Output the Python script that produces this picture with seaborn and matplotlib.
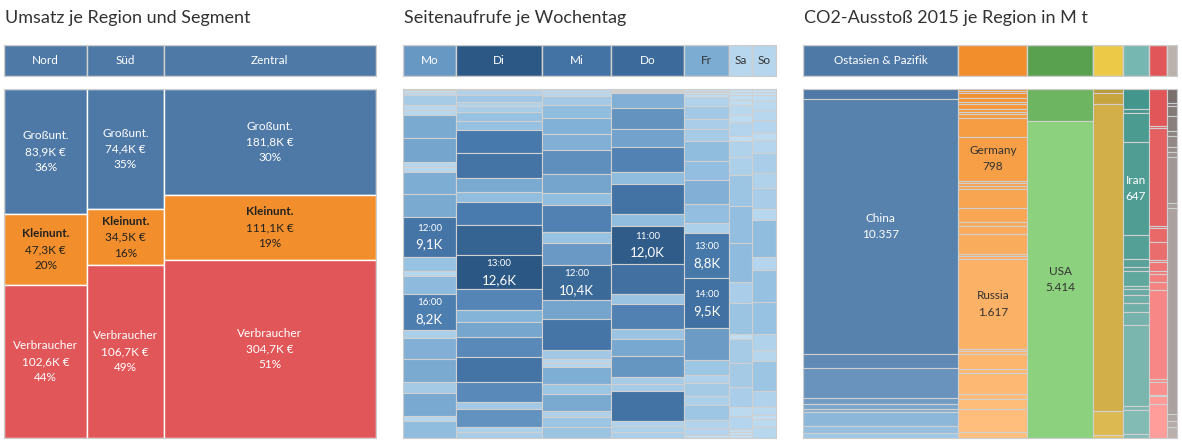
import numpy as np
import seaborn as sns
import matplotlib.pyplot as plt
from matplotlib.colors import Normalize

sns.set_style('white')
plt.rcParams['font.family'] = ['Lato', 'DejaVu Sans']

# --- Umsatz je Region und Segment (K €)
regions = ['Nord', 'Süd', 'Zentral']
segments = ['Großunt.', 'Kleinunt.', 'Verbraucher']
umsatz = {'Nord': [83.9, 47.3, 102.6],
          'Süd': [74.4, 34.5, 106.7],
          'Zentral': [181.8, 111.1, 304.7]}
seg_colors = ['#4e79a7', '#f28e2b', '#e15759']

# --- Seitenaufrufe je Wochentag (K, Stunde 0..23)
days = ['Mo', 'Di', 'Mi', 'Do', 'Fr', 'Sa', 'So']
aufrufe = {
    'Mo': [0.3, 0.3, 0.8, 2.3, 1.0, 1.1, 5.2, 5.6, 1.1, 1.0, 5.0, 5.2, 9.1, 3.2, 1.1, 4.0, 8.2, 1.9, 4.8, 5.2, 2.4, 5.3, 1.1, 3.8],
    'Di': [0.5, 1.6, 2.7, 1.6, 2.1, 3.2, 3.3, 8.6, 9.2, 5.2, 3.7, 8.4, 11.1, 12.6, 7.7, 4.5, 5.5, 7.4, 9.2, 7.4, 2.5, 6.8, 1.8, 2.1],
    'Mi': [1.0, 1.2, 2.5, 3.7, 4.7, 4.8, 7.0, 5.6, 3.7, 8.0, 3.2, 6.3, 10.4, 5.6, 9.1, 2.6, 1.2, 1.3, 4.9, 2.9, 5.2, 1.7, 3.0, 3.1],
    'Do': [0.3, 0.3, 0.3, 0.3, 4.8, 6.7, 5.7, 7.9, 3.8, 9.4, 3.7, 12.0, 9.6, 3.1, 8.0, 3.1, 5.4, 6.6, 2.3, 2.2, 9.4, 1.6, 1.8, 1.9],
    'Fr': [0.3, 0.3, 0.4, 0.6, 1.6, 2.5, 2.0, 2.3, 3.8, 3.6, 4.8, 3.6, 1.8, 8.8, 9.5, 6.2, 2.9, 1.6, 2.4, 1.8, 2.9, 1.5, 1.4, 0.5],
    'Sa': [0.3, 0.3, 0.5, 0.5, 1.0, 0.6, 1.4, 0.5, 1.6, 1.8, 3.0, 3.6, 3.9, 2.0, 3.1, 0.5, 2.3, 2.4, 2.0, 0.8, 1.3, 0.3, 0.3, 0.3],
    'So': [0.3, 0.3, 0.6, 0.9, 1.1, 1.3, 0.7, 1.3, 2.0, 1.6, 2.1, 1.1, 3.8, 1.3, 3.3, 3.2, 1.6, 1.2, 3.0, 1.6, 0.9, 0.4, 0.8, 1.1],
}
highlight = [('Mo', 12), ('Mo', 16), ('Di', 13), ('Mi', 12), ('Do', 11), ('Fr', 13), ('Fr', 14)]

# --- CO2-Ausstoß 2015 je Region (M t)
co2_regions = ['Ostasien & Pazifik', 'Europa & Zentralasien', 'Nordamerika', 'Südasien',
               'Naher Osten', 'Afrika', 'Lateinamerika']
co2_head = ['#4e79a7', '#f28e2b', '#59a14f', '#edc948', '#76b7b2', '#e15759', '#bab0ac']
co2_shades = [('#4e79a7', '#9fc8e6'), ('#f28e2b', '#ffc07f'), ('#6db560', '#8cd17d'),
              ('#bb9a35', '#e8c35a'), ('#43968c', '#86bcb6'), ('#e15759', '#ff9d9a'),
              ('#79706e', '#bab0ac')]
co2 = {
    'Ostasien & Pazifik': [410, 10357, 570, 1240, 230, 200, 140, 570, 290, 190],
    'Europa & Zentralasien': [36, 42, 78, 84, 36, 84, 60, 36, 60, 342, 798, 48, 42, 60, 348, 240, 72, 156,
                              360, 42, 48, 1617, 42, 60, 270, 60, 390, 90, 180, 420, 102],
    'Nordamerika': [550, 5414],
    'Südasien': [30, 90, 2400, 190, 20],
    'Naher Osten': [140, 28, 200, 647, 165, 60, 28, 103, 16, 46, 57, 57, 92, 563, 28, 168, 28],
    'Afrika': [173, 13, 462, 9, 63, 86, 11, 39, 16, 39, 35, 421, 16, 60, 6, 36, 160],
    'Lateinamerika': [36, 9, 26, 39, 13, 26, 13, 13, 119, 15, 533, 17, 17, 28],
}
co2_labels = {('Ostasien & Pazifik', 1): ('China', 'white'),
              ('Europa & Zentralasien', 10): ('Germany', '#333333'),
              ('Europa & Zentralasien', 21): ('Russia', '#333333'),
              ('Nordamerika', 1): ('USA', '#333333'),
              ('Naher Osten', 3): ('Iran', 'white')}

W, H = 1182, 442
fig = plt.figure(figsize=(W / 100, H / 100), dpi=100)


def rect(x0, y0, x1, y1):
    return fig.add_axes([x0 / W, 1 - y1 / H, (x1 - x0) / W, (y1 - y0) / H])


def setup(ax):
    ax.set_xlim(0, 1)
    ax.set_ylim(1, 0)
    ax.set_xticks([])
    ax.set_yticks([])
    for s in ax.spines.values():
        s.set_color('#cccccc')
        s.set_linewidth(0.8)


def de(v, d=1):
    return f'{v:,.{d}f}'.replace(',', 'X').replace('.', ',').replace('X', '.')


def header(ax, names, widths, colors, textcolors):
    setup(ax)
    ax.set_ylim(0, 1)
    left = np.concatenate([[0], np.cumsum(widths)[:-1]])
    ax.bar(left, 1, width=widths, align='edge', color=colors, edgecolor='#d0d0d0', linewidth=1)
    for n, l, w, tc in zip(names, left, widths, textcolors):
        if n:
            ax.text(l + w / 2, 0.5, n, ha='center', va='center', color=tc, fontsize=8.5)


panels = [(4, 376), (403, 776), (803, 1177)]
titles = ['Umsatz je Region und Segment', 'Seitenaufrufe je Wochentag', 'CO2-Ausstoß 2015 je Region in M t']
for (x0, x1), t in zip(panels, titles):
    fig.text((x0 + 1) / W, 1 - 18 / H, t, fontsize=13, color='#333333', va='center')

# Panel 1
tot = np.array([sum(umsatz[r]) for r in regions])
wid = tot / tot.sum()
header(rect(4, 45, 376, 76), regions, wid, ['#4e79a7'] * 3, ['white'] * 3)
ax = rect(4, 89, 376, 438)
setup(ax)
left = 0
for r, w in zip(regions, wid):
    vals = np.array(umsatz[r])
    fr = vals / vals.sum()
    bottom = 0
    for i, f in enumerate(fr):
        ax.bar(left, f, width=w, bottom=bottom, align='edge', color=seg_colors[i],
               edgecolor='white', linewidth=1)
        tc = '#222222' if i == 1 else 'white'
        cx, cy = left + w / 2, bottom + f / 2
        ax.text(cx, cy - 0.045, segments[i], ha='center', va='center', color=tc, fontsize=8.5,
                fontweight='bold' if i == 1 else 'normal')
        ax.text(cx, cy, de(vals[i]) + 'K €', ha='center', va='center', color=tc, fontsize=8.5)
        ax.text(cx, cy + 0.045, f'{round(f * 100):.0f}%', ha='center', va='center', color=tc, fontsize=8.5)
        bottom += f
    left += w

# Panel 2
cmap = sns.blend_palette(['#c7e2f4', '#8ab8dc', '#4a7bae', '#2a5783'], as_cmap=True)
norm = Normalize(0, 12.6)
dtot = np.array([sum(aufrufe[d]) for d in days])
dwid = dtot / dtot.sum()
hnorm = Normalize(25, 130)
hcols = [cmap(hnorm(v)) for v in dtot]
htc = ['#333333' if v < 70 else 'white' for v in dtot]
header(rect(403, 45, 776, 76), days, dwid, hcols, htc)
ax = rect(403, 89, 776, 438)
setup(ax)
left = 0
for d, w in zip(days, dwid):
    vals = np.array(aufrufe[d])
    fr = vals / vals.sum()
    bottom = 0
    for h, f in enumerate(fr):
        ax.bar(left, f, width=w, bottom=bottom, align='edge', color=cmap(norm(vals[h])),
               edgecolor='#d0d0d0', linewidth=0.8)
        if (d, h) in highlight:
            cx, cy = left + w / 2, bottom + f / 2
            ax.text(cx, cy - 0.025, f'{h}:00', ha='center', va='center', color='white', fontsize=7)
            ax.text(cx, cy + 0.022, de(vals[h]) + 'K', ha='center', va='center', color='white', fontsize=9.5)
        bottom += f
    left += w

# Panel 3
rtot = np.array([sum(co2[r]) for r in co2_regions])
rwid = rtot / rtot.sum()
header(rect(803, 45, 1177, 76), [co2_regions[0]] + [''] * 6, rwid, co2_head, ['white'] * 7)
ax = rect(803, 89, 1177, 438)
setup(ax)
left = 0
for k, (r, w) in enumerate(zip(co2_regions, rwid)):
    vals = np.array(co2[r])
    fr = vals / vals.sum()
    pal = sns.blend_palette(list(co2_shades[k]), n_colors=max(len(vals), 2))
    bottom = 0
    for i, f in enumerate(fr):
        ax.bar(left, f, width=w, bottom=bottom, align='edge', color=pal[i],
               edgecolor='#d0d0d0', linewidth=0.8)
        if (r, i) in co2_labels:
            name, tc = co2_labels[(r, i)]
            cx, cy = left + w / 2, bottom + f / 2
            ax.text(cx, cy - 0.024, name, ha='center', va='center', color=tc, fontsize=8.5)
            ax.text(cx, cy + 0.024, de(vals[i], 0).replace(',', '.'), ha='center', va='center',
                    color=tc, fontsize=8.5)
        bottom += f
    left += w

fig.savefig('out.png', dpi=100)
